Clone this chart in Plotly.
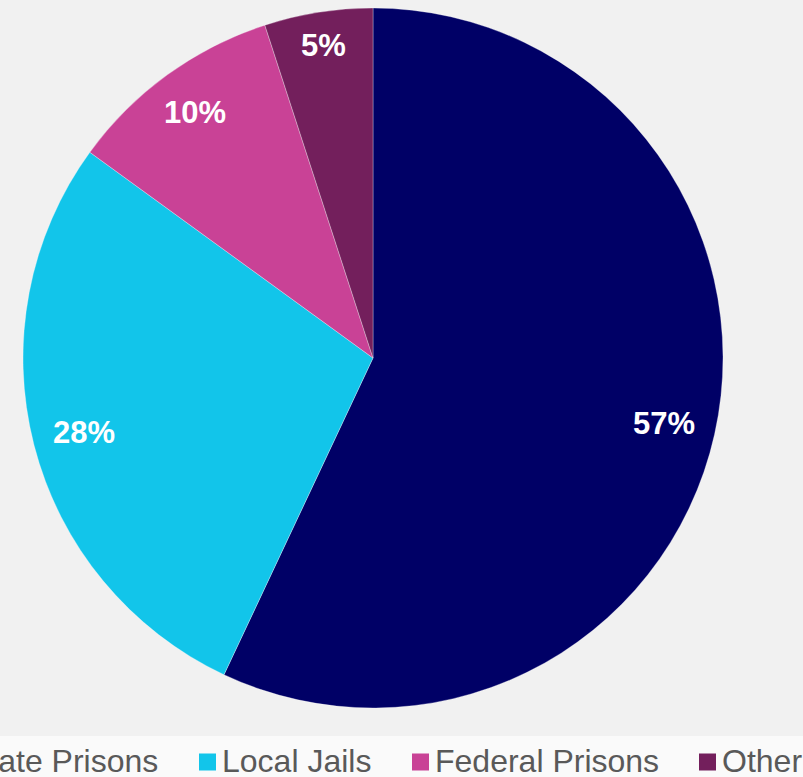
import plotly.graph_objects as go
import math

# Share of incarcerated population by facility type (percent)
categories = ["State Prisons", "Local Jails", "Federal Prisons", "Other"]
shares = [57, 28, 10, 5]
colors = ["#000066", "#12C5EA", "#C94296", "#731F5C"]

W, H = 803, 777
CX, CY, R = 373, 358, 350          # pie centre and radius in pixels
FONT = "Liberation Sans, Arial, sans-serif"
LABEL_SIZE = 31
LEGEND_SIZE = 32

fig = go.Figure()
fig.add_trace(go.Pie(
    labels=categories,
    values=shares,
    sort=False,
    direction="clockwise",
    rotation=0,
    marker=dict(colors=colors, line=dict(color="rgba(255,255,255,0.3)", width=1)),
    textinfo="none",
    hoverinfo="label+percent",
    showlegend=False,
    domain=dict(x=[(CX - R) / W, (CX + R) / W], y=[(H - CY - R) / H, (H - CY + R) / H]),
))

# Percentage labels inside each slice: the label box is pushed inward from the
# rim by its own half-extent along the radial direction ("best fit" placement)
annotations = []
total = sum(shares)
cum = 0
rim = 331
for cat, v in zip(categories, shares):
    mid = (cum + v / 2) / total * 2 * math.pi
    cum += v
    text = f"{v}%"
    box_w = (0.556 * len(str(v)) + 0.889) * LABEL_SIZE
    box_h = 0.75 * LABEL_SIZE
    s, c = math.sin(mid), math.cos(mid)
    rr = rim - (abs(s) * box_w / 2 + abs(c) * box_h / 2)
    px = CX + rr * s
    py = CY - rr * c
    annotations.append(dict(
        x=px / W, y=(H - py) / H, xref="paper", yref="paper",
        text=f"<b>{text}</b>", showarrow=False,
        xanchor="center", yanchor="middle",
        font=dict(family=FONT, size=LABEL_SIZE, color="white"),
    ))

# Legend row along the bottom (swatch + label per category)
shapes = [dict(type="rect", xref="paper", yref="paper", x0=0, x1=1, y0=0, y1=(H - 736) / H,
               fillcolor="#fafafa", line=dict(width=0), layer="below")]
legend_text_x = [-34, 220, 433, 720]
legend_swatch_x = [-53, 199, 412, 699]
legend_y = 761
sw = 17
for cat, col, tx, sx0 in zip(categories, colors, legend_text_x, legend_swatch_x):
    shapes.append(dict(type="rect", xref="paper", yref="paper",
                       x0=sx0 / W, x1=(sx0 + sw) / W,
                       y0=(H - (legend_y + 1 + sw / 2)) / H, y1=(H - (legend_y + 1 - sw / 2)) / H,
                       fillcolor=col, line=dict(width=0)))
    annotations.append(dict(
        x=tx / W, y=(H - legend_y) / H, xref="paper", yref="paper",
        text=cat, showarrow=False, xanchor="left", yanchor="middle",
        font=dict(family=FONT, size=LEGEND_SIZE, color="#595959"),
    ))

fig.update_layout(
    width=W, height=H,
    margin=dict(l=0, r=0, t=0, b=0),
    paper_bgcolor="#f1f1f1",
    plot_bgcolor="#f1f1f1",
    annotations=annotations,
    shapes=shapes,
)

fig.write_html("out.html")
